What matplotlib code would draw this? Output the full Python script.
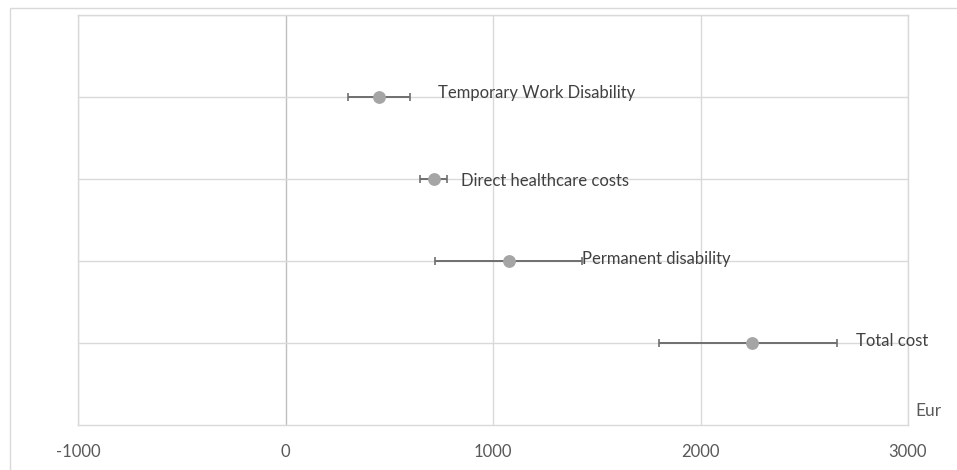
import matplotlib.pyplot as plt
from matplotlib.patches import Rectangle

# Data (Eur)
categories = ["Total cost", "Permanent disability", "Direct healthcare costs", "Temporary Work Disability"]
means = [2250, 1075, 715, 450]
lower = [1800, 720, 650, 300]
upper = [2660, 1430, 780, 600]
# gap between upper whisker end and label start (Eur)
label_gap = [90, 0, 65, 135]
label_dy = [0.03, 0.03, -0.02, 0.05]
xticks = [-1000, 0, 1000, 2000, 3000]

ypos = list(range(1, len(categories) + 1))
err_lo = [m - l for m, l in zip(means, lower)]
err_hi = [u - m for m, u in zip(means, upper)]

plt.rcParams['font.family'] = ['Lato', 'DejaVu Sans']

fig = plt.figure(figsize=(9.57, 4.70), dpi=100)
ax = fig.add_axes([78 / 957, 45 / 470, (908 - 78) / 957, (455 - 45) / 470])

# outer chart border
fig.patches.append(Rectangle((10 / 957, -0.1), 1.1, (470 - 8) / 470 + 0.1,
                             transform=fig.transFigure, fill=False,
                             edgecolor='#d9d9d9', linewidth=1.0))

grid_c = '#d9d9d9'
for x in xticks:
    ax.axvline(x, color='#bfbfbf' if x == 0 else grid_c, lw=1.0, zorder=0)
for y in ypos + [5]:
    ax.axhline(y, color=grid_c, lw=1.0, zorder=0)

ax.errorbar(means, ypos, xerr=[err_lo, err_hi], fmt='o', color='#a5a5a5',
            markersize=8.2, ecolor='#6f6f6f', elinewidth=1.4, capsize=3,
            capthick=1.2, zorder=3)

for cat, u, g, y, dy in zip(categories, upper, label_gap, ypos, label_dy):
    ax.text(u + g, y + dy, cat, ha='left', va='center', fontsize=12, color='#404040', zorder=4)

ax.set_xlim(-1000, 3000)
ax.set_ylim(0, 5)
ax.set_xticks(xticks)
ax.set_xticklabels([str(t) for t in xticks])
ax.set_yticks([])
ax.tick_params(axis='x', length=0, pad=14, labelsize=12, labelcolor='#595959')
for side in ['top', 'right', 'left', 'bottom']:
    ax.spines[side].set_color(grid_c)
    ax.spines[side].set_linewidth(1.0)

ax.text(1.009, 0.035, "Eur", transform=ax.transAxes, ha='left', va='center',
        fontsize=12.5, color='#595959')

fig.savefig('out.png', dpi=100)
